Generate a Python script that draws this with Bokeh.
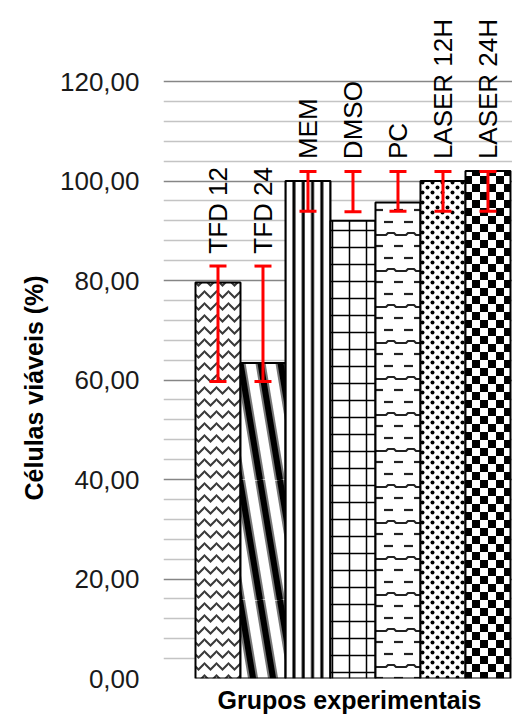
import base64
from bokeh.plotting import figure
from bokeh.models import (ColumnDataSource, Range1d, FixedTicker, CustomJSTickFormatter,
                          Whisker, TeeHead, LabelSet, Title, ImageURLTexture)
from bokeh.core.properties import value
from bokeh.embed import file_html
from bokeh.resources import INLINE

# ---- data ----
groups = ["TFD 12", "TFD 24", "MEM", "DMSO", "PC", "LASER 12H", "LASER 24H"]
viable = [79.6, 63.4, 100.0, 92.0, 95.7, 100.0, 102.0]
err_upper = [82.9, 82.9, 101.9, 101.9, 101.9, 101.9, 101.9]
err_lower = [59.7, 59.7, 93.9, 93.8, 93.9, 93.9, 93.9]
major_ticks = [0, 20, 40, 60, 80, 100, 120]
minor_ticks = [4, 8, 12, 16, 24, 28, 32, 36, 44, 48, 52, 56, 64, 68, 72, 76,
               84, 88, 92, 96, 104, 108, 112, 116]

# ---- textures ----
def svg_uri(svg):
    return "data:image/svg+xml;base64," + base64.b64encode(svg.encode()).decode()

def svg(w, h, body):
    return (f"<svg xmlns='http://www.w3.org/2000/svg' width='{w}' height='{h}'>"
            f"<rect width='{w}' height='{h}' fill='white'/>{body}</svg>")

checker_svg = svg(16, 16, "<rect width='8' height='8' fill='black'/>"
                          "<rect x='8' y='8' width='8' height='8' fill='black'/>")
steep_svg = svg(20, 120, "<g stroke='#777' stroke-width='10'>"
                         "<line x1='-20' y1='0' x2='0' y2='120'/>"
                         "<line x1='0' y1='0' x2='20' y2='120'/>"
                         "<line x1='20' y1='0' x2='40' y2='120'/></g>"
                         "<g stroke='black' stroke-width='6'>"
                         "<line x1='-20' y1='0' x2='0' y2='120'/>"
                         "<line x1='0' y1='0' x2='20' y2='120'/>"
                         "<line x1='20' y1='0' x2='40' y2='120'/></g>")
dash_svg = svg(20, 36, "<g stroke='#222' stroke-width='2.2' fill='none'>"
                       "<line x1='4' y1='6' x2='13' y2='6'/>"
                       "<polyline points='0,19 6,19 8,17 14,17 16,19 20,19'/>"
                       "<line x1='14' y1='30' x2='20' y2='30'/>"
                       "<line x1='0' y1='30' x2='3' y2='30'/></g>")
dots_svg = svg(10, 10, "<g fill='black'><circle cx='2.5' cy='2.5' r='2'/>"
                       "<circle cx='7.5' cy='7.5' r='2'/></g>")
textures = {"checker": ImageURLTexture(url=svg_uri(checker_svg)),
            "steep": ImageURLTexture(url=svg_uri(steep_svg)),
            "dashes": ImageURLTexture(url=svg_uri(dash_svg)),
            "dots": ImageURLTexture(url=svg_uri(dots_svg))}

patterns = ["horizontal_wave", "steep", "vertical_line", "cross", "dashes", "dots", "checker"]
pscale = [12, 16, 9.3, 17, 14, 7, 16]
pweight = [2, 1, 3, 1.5, 2.5, 3, 1]
pcolor = ["#3a3a3a", "black", "black", "black", "black", "black", "black"]

xs = list(range(len(groups)))
src = ColumnDataSource(dict(x=xs, top=viable, upper=err_upper, lower=err_lower,
                            name=groups, pat=patterns, hs=pscale, hw=pweight, hc=pcolor,
                            ly=[u + 2.5 for u in err_upper]))

# frame spans y=0..678 px; 0..120 maps to 678..81 px
y_top = 120 + 81 / ((678 - 81) / 120)
p = figure(width=512, height=720, output_backend="svg", toolbar_location=None,
           x_range=Range1d(-1.211, 6.545), y_range=Range1d(0, y_top),
           min_border_left=163, min_border_right=0, min_border_top=0,
           min_border_bottom=42)
p.outline_line_color = None
p.background_fill_color = "white"

p.xaxis.visible = False
p.xgrid.visible = False

tick = FixedTicker(ticks=major_ticks, minor_ticks=minor_ticks)
p.yaxis.ticker = tick
p.ygrid.ticker = tick
p.ygrid.grid_line_color = "#868686"
p.ygrid.grid_line_width = 1.3
p.ygrid.minor_grid_line_color = "#c4c4c4"
p.ygrid.minor_grid_line_width = 1.3

yax = p.yaxis[0]
yax.axis_line_color = None
yax.major_tick_line_color = None
yax.minor_tick_line_color = None
yax.major_tick_out = 0
yax.minor_tick_out = 0
yax.major_label_standoff = 24
yax.formatter = CustomJSTickFormatter(code="return tick.toFixed(2).replace('.', ',');")
yax.major_label_text_font = "Liberation Sans"
yax.major_label_text_font_size = "26px"
yax.major_label_text_color = "#1a1a1a"

p.vbar(x="x", top="top", bottom=0, width=1, source=src,
       fill_color="white", line_color="black", line_width=2,
       hatch_pattern="pat", hatch_scale="hs", hatch_weight="hw",
       hatch_color="hc", hatch_extra=textures)

wh = Whisker(source=src, base="x", upper="upper", lower="lower",
             line_color="red", line_width=3, level="overlay",
             upper_head=TeeHead(size=17, line_color="red", line_width=3),
             lower_head=TeeHead(size=17, line_color="red", line_width=3))
p.add_layout(wh)

labels = LabelSet(x="x", y="ly", text="name", source=src, angle=1.5708,
                  text_align="left", text_baseline="middle",
                  text_font=value("Liberation Sans"), text_font_size=value("26px"),
                  text_color="black")
p.add_layout(labels)

p.add_layout(Title(text="Células viáveis (%)", align="left", offset=178, standoff=17,
                   text_font="Liberation Sans", text_font_size="25px",
                   text_font_style="bold", text_color="black"), "left")

p.add_layout(Title(text="Grupos experimentais", align="left", offset=54, standoff=10,
                   vertical_align="bottom", text_line_height=1.0,
                   text_font="Liberation Sans", text_font_size="25px",
                   text_font_style="bold", text_color="black"), "below")

open("out.html", "w").write(file_html(p, INLINE))
